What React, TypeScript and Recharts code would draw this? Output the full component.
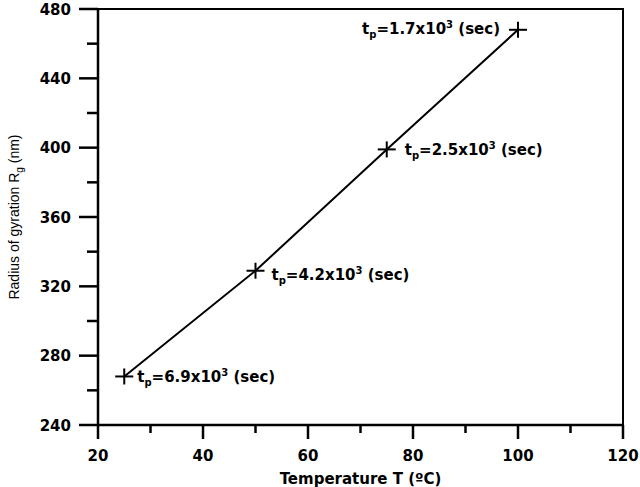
import { LabelList, Line, LineChart, ReferenceArea, XAxis, YAxis } from 'recharts';

// measured points: temperature (°C) vs radius of gyration Rg (nm)
const temperature = [25, 50, 75, 100];
const radius = [268, 329, 399, 468];
// t_p mantissas, shown as "t_p = m x 10^3 (sec)"
const tpMantissa = ['6.9', '4.2', '2.5', '1.7'];

const xTicks = [20, 30, 40, 50, 60, 70, 80, 90, 100, 110, 120];
const xMajor = [20, 40, 60, 80, 100, 120];
const yTicks = [240, 260, 280, 300, 320, 340, 360, 380, 400, 420, 440, 460, 480];
const yMajor = [240, 280, 320, 360, 400, 440, 480];

const data = temperature.map((t, i) => ({ t, r: radius[i], tp: tpMantissa[i] }));

const BOLD = { fontFamily: 'DejaVu Sans', fontWeight: 'bold' as const, fill: '#000' };

function XTick({ x, y, payload }: any) {
  const major = xMajor.includes(payload.value);
  return (
    <g>
      <line x1={x} y1={y} x2={x} y2={y + (major ? 14 : 8)} stroke="#000" strokeWidth={2.5} />
      {major && (
        <text x={x} y={y + 36} textAnchor="middle" fontSize={15} {...BOLD}>
          {payload.value}
        </text>
      )}
    </g>
  );
}

function YTick({ x, y, payload }: any) {
  const major = yMajor.includes(payload.value);
  return (
    <g>
      <line x1={x} y1={y} x2={x - (major ? 19 : 11)} y2={y} stroke="#000" strokeWidth={2.5} />
      {major && (
        <text x={x - 27} y={y + 5.5} textAnchor="end" fontSize={15} {...BOLD}>
          {payload.value}
        </text>
      )}
    </g>
  );
}

function Cross({ cx, cy, index }: any) {
  return (
    <g key={`cross-${index}`}>
      <line x1={cx - 9} y1={cy} x2={cx + 9} y2={cy} stroke="#000" strokeWidth={2} />
      <line x1={cx} y1={cy - 8} x2={cx} y2={cy + 8} stroke="#000" strokeWidth={2} />
    </g>
  );
}

// label placement tweaks, one per point
const labelDx = [13, 16, 18, -18];
const labelDy = [6, 9, 6, 4];

function TpLabel({ x, y, value, index }: any) {
  const dx = labelDx[index] ?? 14;
  return (
    <text
      x={x + dx}
      y={y + (labelDy[index] ?? 6)}
      textAnchor={dx < 0 ? 'end' : 'start'}
      fontSize={15}
      {...BOLD}
    >
      <tspan>t</tspan>
      <tspan fontSize={10} dy={4}>p</tspan>
      <tspan dy={-4}>={value}x10</tspan>
      <tspan fontSize={10} dy={-6}>3</tspan>
      <tspan dy={6}> (sec)</tspan>
    </text>
  );
}

function XTitle({ viewBox }: any) {
  const cx = viewBox.x + viewBox.width / 2;
  return (
    <text x={cx} y={484} textAnchor="middle" fontSize={15} {...BOLD}>
      Temperature T (ºC)
    </text>
  );
}

function YTitle({ viewBox }: any) {
  const cy = viewBox.y + viewBox.height / 2;
  return (
    <text
      x={19}
      y={cy}
      transform={`rotate(-90 19 ${cy})`}
      textAnchor="middle"
      fontFamily="Liberation Sans"
      fontSize={14}
      fill="#000"
    >
      Radius of gyration R
      <tspan fontSize={10} dy={4}>g</tspan>
      <tspan dy={-4}> (nm)</tspan>
    </text>
  );
}

export default function App() {
  return (
    <div style={{ position: 'absolute', left: 0, top: 0, background: '#fff' }}>
      <LineChart width={640} height={487} data={data} margin={{ top: 9, right: 17, bottom: 0, left: 0 }}>
        <ReferenceArea x1={20} x2={120} y1={240} y2={480} fill="none" stroke="#000" strokeWidth={2} />
        <XAxis
          dataKey="t"
          type="number"
          domain={[20, 120]}
          ticks={xTicks}
          interval={0}
          tickSize={0}
          tickMargin={0}
          tickLine={false}
          height={62}
          axisLine={{ stroke: '#000', strokeWidth: 2.5 }}
          tick={<XTick />}
          label={<XTitle />}
        />
        <YAxis
          type="number"
          domain={[240, 480]}
          ticks={yTicks}
          interval={0}
          tickSize={0}
          tickMargin={0}
          tickLine={false}
          width={98}
          axisLine={{ stroke: '#000', strokeWidth: 2.5 }}
          tick={<YTick />}
          label={<YTitle />}
        />
        <Line
          dataKey="r"
          stroke="#000"
          strokeWidth={2}
          dot={(p: any) => <Cross {...p} key={`c-${p.index}`} />}
          activeDot={false}
          isAnimationActive={false}
        >
          <LabelList dataKey="tp" content={<TpLabel />} />
        </Line>
      </LineChart>
    </div>
  );
}
